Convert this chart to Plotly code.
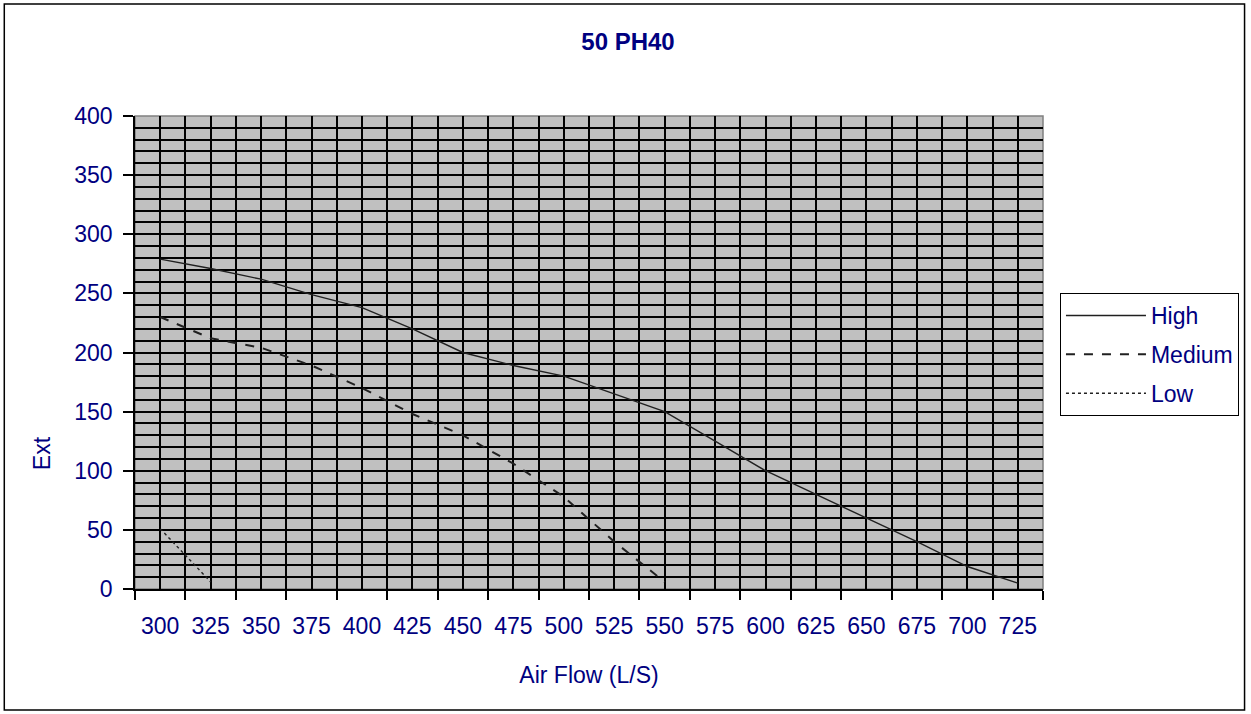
import plotly.graph_objects as go

# Fan curves for unit 50 PH40: external static vs air flow
air_flow = [300, 325, 350, 375, 400, 425, 450, 475, 500, 525, 550,
            575, 600, 625, 650, 675, 700, 725]
high = [279, 271, 262, 249, 238, 220, 200, 189, 180, 165, 150,
        125, 100, 80, 60, 40, 19, 5]
medium_flow = [300, 325, 350, 375, 400, 425, 450, 475, 500, 525, 550]
medium = [230, 212, 204, 189, 170, 148, 130, 106, 78, 40, 6]
low_flow = [300, 325]
low = [51, 6]

x_ticks = air_flow
y_ticks = [0, 50, 100, 150, 200, 250, 300, 350, 400]
# category boundaries sit half a step either side of each label
x_bounds = [v - 12.5 for v in air_flow] + [air_flow[-1] + 12.5]

NAVY = "#000080"
FONT = "Liberation Sans, Arial, sans-serif"

fig = go.Figure()
fig.add_trace(go.Scatter(x=air_flow, y=high, mode="lines", name="High",
                         legendgroup="h",
                         line=dict(color="#202020", width=1.4, dash="solid")))
fig.add_trace(go.Scatter(x=medium_flow, y=medium, mode="lines", name="Medium",
                         legendgroup="m",
                         line=dict(color="#202020", width=2, dash="dash")))
fig.add_trace(go.Scatter(x=low_flow, y=low, mode="lines", name="Low",
                         legendgroup="l",
                         line=dict(color="#202020", width=1.4, dash="dot")))

fig.update_layout(
    width=1251, height=714,
    margin=dict(l=135, r=206, t=116, b=125),
    paper_bgcolor="white",
    plot_bgcolor="#C0C0C0",
    font=dict(family=FONT, size=23, color=NAVY),
    title=dict(text="<b>50 PH40</b>", x=0.502, xref="container",
               y=1 - 42 / 714, yref="container", yanchor="middle",
               xanchor="center",
               font=dict(family=FONT, size=24, color=NAVY)),
    showlegend=True,
    legend=dict(x=(1062 - 135) / 910, xanchor="left",
                y=(589 - 293) / 473, yanchor="top",
                bordercolor="black", borderwidth=1, bgcolor="white",
                tracegroupgap=6, itemwidth=80,
                font=dict(family=FONT, size=23, color=NAVY)),
)

fig.update_xaxes(
    range=[x_bounds[0], x_bounds[-1]],
    tickmode="array", tickvals=x_ticks, ticktext=[str(v) for v in x_ticks],
    ticks="", ticklabelstandoff=16,
    showgrid=True, gridcolor="#000000", gridwidth=1.5,
    showline=True, linecolor="black", linewidth=1.5,
    zeroline=False,
    tickfont=dict(family=FONT, size=23, color=NAVY),
    minor=dict(tickmode="array", tickvals=x_bounds, ticks="outside",
               ticklen=9, tickcolor="black", tickwidth=1.5,
               showgrid=True, gridcolor="#000000", gridwidth=1.5),
    title=dict(text="Air Flow (L/S)", standoff=29,
               font=dict(family=FONT, size=23, color=NAVY)),
)

fig.update_yaxes(
    range=[0, 400],
    tickmode="array", tickvals=y_ticks, ticktext=[str(v) for v in y_ticks],
    ticks="outside", ticklen=10, tickcolor="black", tickwidth=1.5,
    ticklabelstandoff=6,
    showgrid=True, gridcolor="#000000", gridwidth=1.5,
    showline=True, linecolor="black", linewidth=1.5,
    zeroline=False,
    tickfont=dict(family=FONT, size=23, color=NAVY),
    minor=dict(dtick=10, tick0=0, showgrid=True, gridcolor="#000000",
               gridwidth=1.5, ticks=""),
)

# Y-axis caption
fig.add_annotation(text="Ext", xref="paper", yref="paper",
                   x=(42 - 135) / 910, y=(589 - 453) / 473,
                   xanchor="center", yanchor="middle", textangle=-90,
                   showarrow=False,
                   font=dict(family=FONT, size=23, color=NAVY))

# Gray frame on the top and right of the plot area
fig.add_shape(type="rect", xref="paper", yref="paper",
              x0=0, x1=1, y0=0, y1=1,
              line=dict(color="#808080", width=1.5), layer="below")

# Outer chart border
fig.add_shape(type="rect", xref="paper", yref="paper",
              x0=(4 - 135) / 910, x1=(1247 - 135) / 910,
              y0=(589 - 710) / 473, y1=(589 - 4) / 473,
              line=dict(color="black", width=1.5))

fig.write_html("out.html")
